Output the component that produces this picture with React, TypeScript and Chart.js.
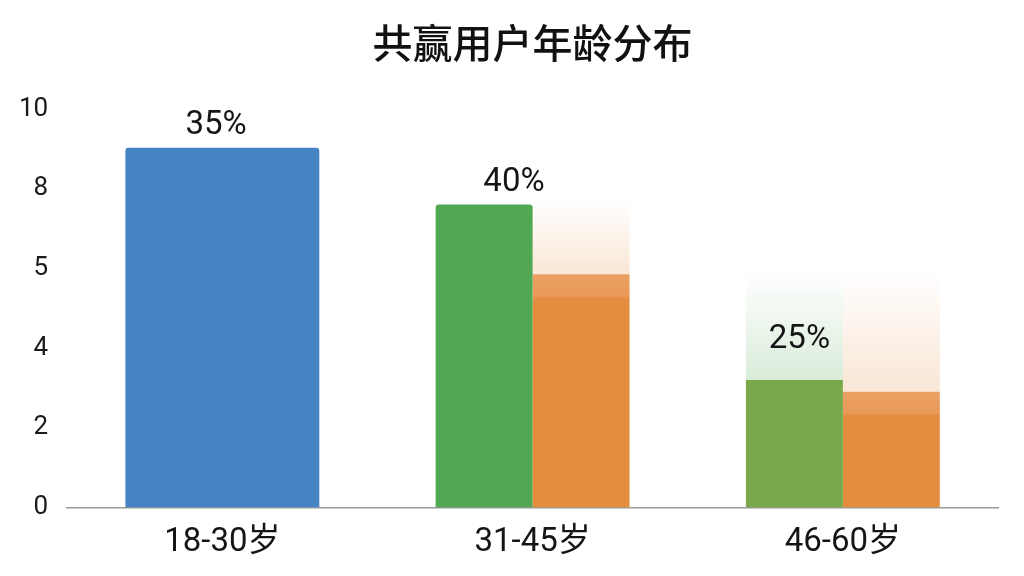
import React, { useEffect, useRef } from 'react';
import { Chart, ChartConfiguration, Plugin, registerables } from 'chart.js';

Chart.register(...registerables);

const categories = ['18-30岁', '31-45岁', '46-60岁'];
const blueValues = [9.03, null, null];
const greenValues = [null, 7.6, 3.2];
const orangeValues = [null, 5.85, 2.9];
// faded glow above the bars (top edge, in axis units)
const greenGlowTop = [null, null, 5.9];
const orangeGlowTop = [null, 7.7, 5.9];
const tickLabels = ['0', '2', '4', '5', '8', '10'];
const pctLabels = ['35%', '40%', '25%'];
const pctLabelX = [-0.02, 0.94, 1.86];
const pctLabelY = [9.57, 8.15, 4.22];

const BLUE = '#4683C2';
const GREEN = ['#52A852', '#52A852', '#79A84A'];
const ORANGE = '#E58D3F';

const glowData = (tops: (number | null)[], vals: (number | null)[]) =>
  tops.map((t, i) => (t == null || vals[i] == null ? null : t - (vals[i] as number)));

const glowFill = (tops: (number | null)[], vals: (number | null)[], rgb: string) => (ctx: any) => {
  const chart = ctx.chart;
  if (!chart.chartArea || ctx.type !== 'data') return 'transparent';
  const i = ctx.dataIndex;
  if (tops[i] == null || vals[i] == null) return 'transparent';
  const y = chart.scales.y;
  const g = chart.ctx.createLinearGradient(0, y.getPixelForValue(tops[i]), 0, y.getPixelForValue(vals[i]));
  g.addColorStop(0, `rgba(${rgb},0)`);
  g.addColorStop(1, `rgba(${rgb},0.22)`);
  return g;
};

const orangeFill = (ctx: any) => {
  const chart = ctx.chart;
  if (!chart.chartArea || ctx.type !== 'data') return ORANGE;
  const v = orangeValues[ctx.dataIndex];
  if (v == null) return ORANGE;
  const top = chart.scales.y.getPixelForValue(v);
  const g = chart.ctx.createLinearGradient(0, top, 0, top + 24);
  g.addColorStop(0, '#EAA062');
  g.addColorStop(0.9, '#E9995A');
  g.addColorStop(1, ORANGE);
  return g;
};

const pctLabelPlugin: Plugin<'bar'> = {
  id: 'pctLabels',
  afterDatasetsDraw(chart) {
    const { ctx, scales } = chart;
    ctx.save();
    ctx.font = '33px Roboto, "Noto Sans CJK SC", sans-serif';
    ctx.fillStyle = '#151515';
    ctx.textAlign = 'center';
    ctx.textBaseline = 'middle';
    pctLabels.forEach((t, i) => {
      ctx.fillText(t, scales.x.getPixelForValue(pctLabelX[i]), scales.y.getPixelForValue(pctLabelY[i]));
    });
    ctx.restore();
  },
};

const AgeChart: React.FC = () => {
  const chartRef = useRef<HTMLCanvasElement>(null);
  const chartInstanceRef = useRef<Chart | null>(null);

  useEffect(() => {
    if (!chartRef.current) return;
    const ctx = chartRef.current.getContext('2d');
    if (!ctx) return;

    if (chartInstanceRef.current) {
      chartInstanceRef.current.destroy();
    }

    const config: ChartConfiguration<'bar'> = {
      type: 'bar',
      data: {
        labels: categories,
        datasets: [
          { data: blueValues as any, backgroundColor: BLUE, stack: 'b', borderRadius: 3 },
          { data: greenValues as any, backgroundColor: GREEN, stack: 'g', borderRadius: 3 },
          {
            data: glowData(greenGlowTop, greenValues) as any,
            backgroundColor: glowFill(greenGlowTop, greenValues, '82,168,82'),
            stack: 'g',
          },
          { data: orangeValues as any, backgroundColor: orangeFill, stack: 'o', borderRadius: 3 },
          {
            data: glowData(orangeGlowTop, orangeValues) as any,
            backgroundColor: glowFill(orangeGlowTop, orangeValues, '229,141,63'),
            stack: 'o',
          },
        ],
      },
      options: {
        responsive: true,
        maintainAspectRatio: false,
        animation: false,
        skipNull: true,
        categoryPercentage: 0.625,
        barPercentage: 1.0,
        layout: { padding: { left: 0, right: 26, bottom: 5, top: 0 } },
        scales: {
          x: {
            grid: { display: false },
            border: { color: '#9a9a9a', width: 1.5 },
            ticks: {
              color: '#151515',
              padding: 8,
              font: { size: 33, family: 'Roboto, "Noto Sans CJK SC", sans-serif' },
            },
          },
          y: {
            stacked: true,
            min: 0,
            max: 10,
            grid: { display: false, drawTicks: false },
            border: { display: false },
            ticks: {
              stepSize: 2,
              padding: 19,
              color: '#1a1a1a',
              font: { size: 26, family: 'Roboto, sans-serif' },
              callback: (_v, i) => tickLabels[i],
            },
          },
        },
        plugins: {
          legend: { display: false },
          tooltip: { enabled: false },
          title: {
            display: true,
            fullSize: false,
            text: '共赢用户年龄分布',
            color: '#111111',
            font: { size: 40, weight: 500, family: '"Noto Sans CJK SC", sans-serif' },
            padding: { top: 19, bottom: 42 },
          },
        },
      },
      plugins: [pctLabelPlugin],
    };

    chartInstanceRef.current = new Chart(ctx, config);

    return () => {
      if (chartInstanceRef.current) {
        chartInstanceRef.current.destroy();
      }
    };
  }, []);

  return (
    <div style={{ width: 1024, height: 576, position: 'relative', background: '#ffffff' }}>
      <canvas ref={chartRef} />
    </div>
  );
};

export default function App() {
  useEffect(() => {
    document.body.style.margin = '0';
  }, []);
  return <AgeChart />;
}
